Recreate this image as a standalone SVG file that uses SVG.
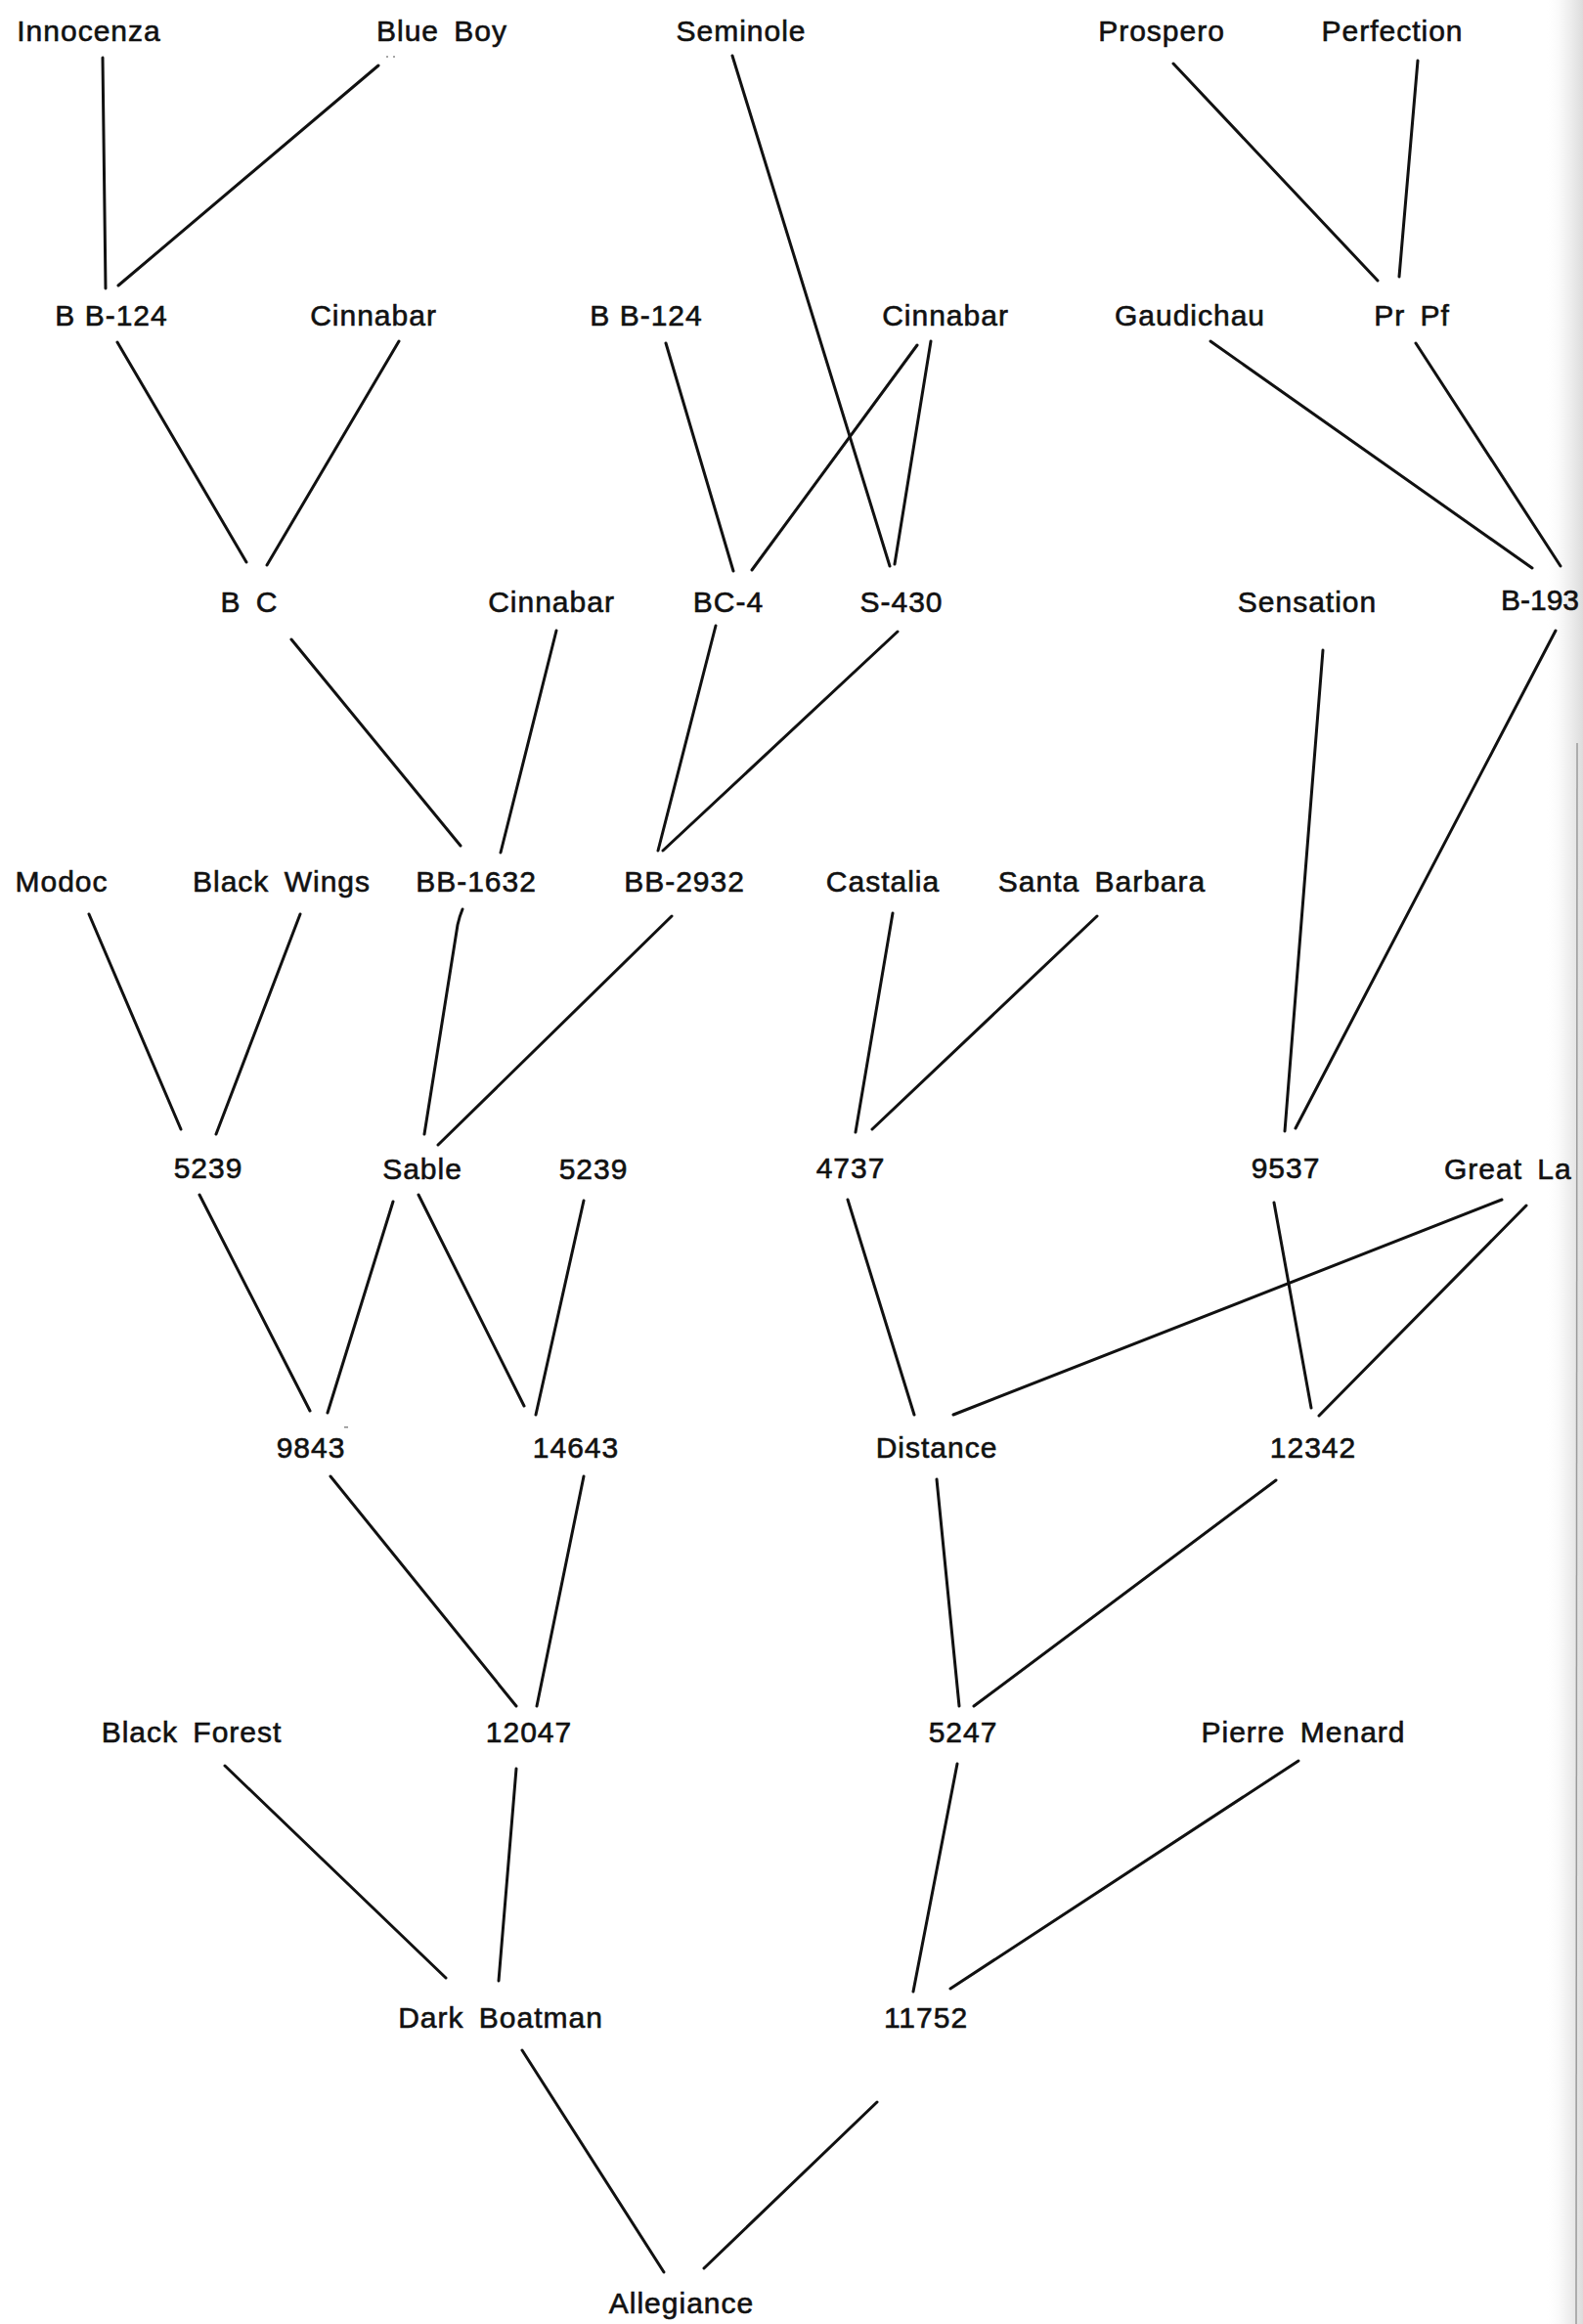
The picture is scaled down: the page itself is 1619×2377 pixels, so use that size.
<svg xmlns="http://www.w3.org/2000/svg" width="1619" height="2377" viewBox="0 0 1619 2377">
<style>
.lbl{font-family:"Liberation Sans",Arial,sans-serif;font-size:30px;letter-spacing:1px;word-spacing:6px;fill:#111;stroke:#111;stroke-width:0.6px;text-anchor:middle}
.st{text-anchor:start}
.tight{word-spacing:0px}
.edge line,.edge path{stroke:#111;stroke-width:3;stroke-linecap:round;fill:none}
</style>
<defs>
<linearGradient id="pg" x1="0" y1="0" x2="1" y2="0">
<stop offset="0" stop-color="#ffffff" stop-opacity="0"/>
<stop offset="0.6" stop-color="#e9e9e9" stop-opacity="0.7"/>
<stop offset="1" stop-color="#dcdcdc"/>
</linearGradient>
</defs>
<rect width="1619" height="2377" fill="#fff"/>
<rect x="1580" y="0" width="39" height="2377" fill="url(#pg)"/>
<line x1="1613" y1="760" x2="1612" y2="2377" stroke="#9a9a9a" stroke-width="1.5"/>

<g id="connectors" class="edge">
<line x1="105" y1="59" x2="108" y2="295"/>
<line x1="387" y1="67" x2="121" y2="292"/>
<line x1="749" y1="57" x2="910" y2="579"/>
<line x1="1200" y1="65" x2="1409" y2="287"/>
<line x1="1450" y1="62" x2="1431" y2="283"/>
<line x1="120" y1="350" x2="252" y2="575"/>
<line x1="408" y1="349" x2="273" y2="578"/>
<line x1="681" y1="351" x2="750" y2="584"/>
<line x1="938" y1="353" x2="769" y2="583"/>
<line x1="952" y1="349" x2="915" y2="577"/>
<line x1="1238" y1="349" x2="1567" y2="581"/>
<line x1="1448" y1="351" x2="1596" y2="579"/>
<line x1="298" y1="654" x2="471" y2="865"/>
<line x1="569" y1="645" x2="512" y2="872"/>
<line x1="732" y1="640" x2="673" y2="870"/>
<line x1="918" y1="646" x2="678" y2="870"/>
<line x1="1353" y1="665" x2="1314" y2="1157"/>
<line x1="1591" y1="645" x2="1325" y2="1154"/>
<line x1="91" y1="935" x2="185" y2="1155"/>
<line x1="307" y1="935" x2="221" y2="1160"/>
<path d="M473,930 Q470,937 468,946 L434,1160"/>
<line x1="687" y1="937" x2="448" y2="1171"/>
<line x1="913" y1="934" x2="875" y2="1158"/>
<line x1="1122" y1="937" x2="892" y2="1155"/>
<line x1="204" y1="1222" x2="317" y2="1443"/>
<line x1="402" y1="1229" x2="335" y2="1445"/>
<line x1="428" y1="1222" x2="536" y2="1438"/>
<line x1="597" y1="1228" x2="548" y2="1447"/>
<line x1="867" y1="1227" x2="935" y2="1447"/>
<line x1="1536" y1="1227" x2="975" y2="1447"/>
<line x1="1303" y1="1230" x2="1341" y2="1440"/>
<line x1="1561" y1="1233" x2="1349" y2="1448"/>
<line x1="338" y1="1510" x2="528" y2="1745"/>
<line x1="597" y1="1510" x2="549" y2="1745"/>
<line x1="958" y1="1513" x2="981" y2="1745"/>
<line x1="1305" y1="1514" x2="996" y2="1745"/>
<line x1="230" y1="1806" x2="456" y2="2023"/>
<line x1="528" y1="1809" x2="510" y2="2026"/>
<line x1="979" y1="1804" x2="934" y2="2037"/>
<line x1="1328" y1="1801" x2="972" y2="2034"/>
<line x1="534" y1="2097" x2="679" y2="2324"/>
<line x1="897" y1="2150" x2="720" y2="2320"/>
</g>

<g id="marks" fill="#888">
<circle cx="396" cy="58" r="1"/>
<circle cx="403" cy="58" r="1"/>
<rect x="352" y="1459" width="4" height="1.5"/>
</g>

<g id="n-innocenza"><text class="lbl" x="91" y="42">Innocenza</text></g>
<g id="n-blueboy"><text class="lbl" x="452" y="42">Blue Boy</text></g>
<g id="n-seminole"><text class="lbl" x="758" y="42">Seminole</text></g>
<g id="n-prospero"><text class="lbl" x="1188" y="42">Prospero</text></g>
<g id="n-perfection"><text class="lbl" x="1424" y="42">Perfection</text></g>

<g id="n-bb124a"><text class="lbl tight" x="114" y="333">B B-124</text></g>
<g id="n-cinnabar-a"><text class="lbl" x="382" y="333">Cinnabar</text></g>
<g id="n-bb124b"><text class="lbl tight" x="661" y="333">B B-124</text></g>
<g id="n-cinnabar-b"><text class="lbl" x="967" y="333">Cinnabar</text></g>
<g id="n-gaudichau"><text class="lbl" x="1217" y="333">Gaudichau</text></g>
<g id="n-prpf"><text class="lbl" x="1444" y="333">Pr Pf</text></g>

<g id="n-bc"><text class="lbl" x="255" y="626">B C</text></g>
<g id="n-cinnabar-c"><text class="lbl" x="564" y="626">Cinnabar</text></g>
<g id="n-bc4"><text class="lbl" x="745" y="626">BC-4</text></g>
<g id="n-s430"><text class="lbl" x="922" y="626">S-430</text></g>
<g id="n-sensation"><text class="lbl" x="1337" y="626">Sensation</text></g>
<g id="n-b193"><text class="lbl st" x="1535" y="624" style="letter-spacing:0px">B-193</text></g>

<g id="n-modoc"><text class="lbl" x="63" y="912">Modoc</text></g>
<g id="n-blackwings"><text class="lbl" x="288" y="912">Black Wings</text></g>
<g id="n-bb1632"><text class="lbl" x="487" y="912">BB-1632</text></g>
<g id="n-bb2932"><text class="lbl" x="700" y="912">BB-2932</text></g>
<g id="n-castalia"><text class="lbl" x="903" y="912">Castalia</text></g>
<g id="n-santabarbara"><text class="lbl" x="1127" y="912">Santa Barbara</text></g>

<g id="n-5239a"><text class="lbl" x="213" y="1205">5239</text></g>
<g id="n-sable"><text class="lbl" x="432" y="1206">Sable</text></g>
<g id="n-5239b"><text class="lbl" x="607" y="1206">5239</text></g>
<g id="n-4737"><text class="lbl" x="870" y="1205">4737</text></g>
<g id="n-9537"><text class="lbl" x="1315" y="1205">9537</text></g>
<g id="n-greatla"><text class="lbl st" x="1477" y="1206">Great La</text></g>

<g id="n-9843"><text class="lbl" x="318" y="1491">9843</text></g>
<g id="n-14643"><text class="lbl" x="589" y="1491">14643</text></g>
<g id="n-distance"><text class="lbl" x="958" y="1491">Distance</text></g>
<g id="n-12342"><text class="lbl" x="1343" y="1491">12342</text></g>

<g id="n-blackforest"><text class="lbl" x="196" y="1782">Black Forest</text></g>
<g id="n-12047"><text class="lbl" x="541" y="1782">12047</text></g>
<g id="n-5247"><text class="lbl" x="985" y="1782">5247</text></g>
<g id="n-pierremenard"><text class="lbl" x="1333" y="1782">Pierre Menard</text></g>

<g id="n-darkboatman"><text class="lbl" x="512" y="2074">Dark Boatman</text></g>
<g id="n-11752"><text class="lbl" x="947" y="2074">11752</text></g>

<g id="n-allegiance"><text class="lbl" x="697" y="2366">Allegiance</text></g>
</svg>
